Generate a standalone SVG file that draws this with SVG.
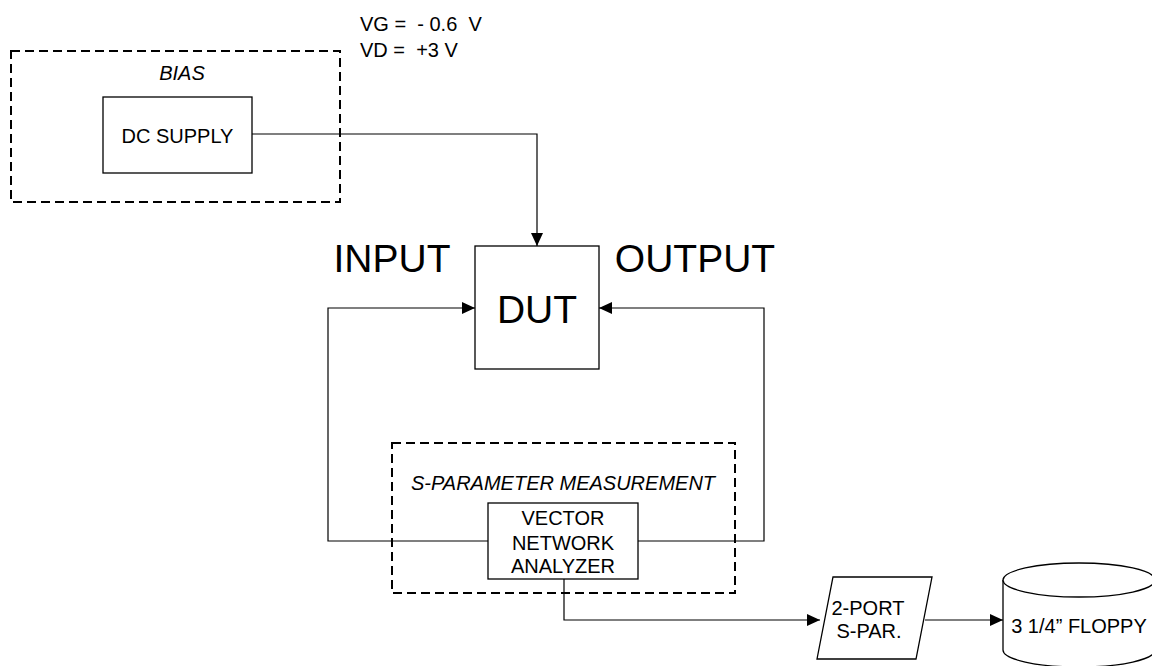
<svg xmlns="http://www.w3.org/2000/svg" width="1152" height="666" viewBox="0 0 1152 666">
<style>
text{font-family:"Liberation Sans",Arial,sans-serif;font-size:20px;fill:#000;white-space:pre}
.big{font-size:39px}
.it{font-style:italic}
.box{fill:#fff;stroke:#000;stroke-width:1.3}
.dash{fill:none;stroke:#000;stroke-width:2;stroke-dasharray:9 5}
.wire{fill:none;stroke:#000;stroke-width:1.2}
</style>
<defs>
<marker id="ah" markerWidth="13" markerHeight="12" refX="13" refY="6" orient="auto" markerUnits="userSpaceOnUse">
<path d="M0,0 L13,6 L0,12 Z" fill="#000"/>
</marker>
</defs>
<rect width="1152" height="666" fill="#fff"/>
<text x="360" y="31">VG =  - 0.6  V</text>
<text x="360" y="57">VD =  +3 V</text>
<g id="bias">
<rect class="dash" x="11" y="51" width="329" height="151"/>
<text class="it" x="182" y="80" text-anchor="middle">BIAS</text>
</g>
<g id="dcsupply">
<rect class="box" x="103" y="97" width="149" height="76"/>
<text x="177.5" y="143" text-anchor="middle">DC SUPPLY</text>
</g>
<g id="labels">
<text class="big" x="392" y="272" text-anchor="middle">INPUT</text>
<text class="big" x="695" y="272" text-anchor="middle">OUTPUT</text>
</g>
<g id="dut">
<rect class="box" x="475" y="246" width="124" height="123"/>
<text class="big" x="537" y="323" text-anchor="middle">DUT</text>
</g>
<g id="spm">
<rect class="dash" x="392" y="443" width="343" height="150"/>
<text class="it" x="563" y="490" text-anchor="middle">S-PARAMETER MEASUREMENT</text>
</g>
<g id="connectors">
<path class="wire" d="M252,134 H537 V246" marker-end="url(#ah)"/>
<path class="wire" d="M488,541 H328 V308 H475" marker-end="url(#ah)"/>
<path class="wire" d="M638,541 H764 V308 H599" marker-end="url(#ah)"/>
<path class="wire" d="M564,579 V620 H820" marker-end="url(#ah)"/>
<path class="wire" d="M925,620 H1003" marker-end="url(#ah)"/>
</g>
<g id="vna">
<rect class="box" x="488" y="503" width="150" height="76"/>
<text x="563" y="525" text-anchor="middle">VECTOR</text>
<text x="563" y="550" text-anchor="middle">NETWORK</text>
<text x="563" y="573" text-anchor="middle">ANALYZER</text>
</g>
<g id="sparfile">
<polygon class="box" points="833,577 932,577 916,659 817,659"/>
<text x="868" y="615" text-anchor="middle">2-PORT</text>
<text x="869" y="638" text-anchor="middle">S-PAR.</text>
</g>
<g id="floppy">
<path class="box" d="M1003,580 V650 A76,17 0 0 0 1155,650 V580 A76,17 0 0 0 1003,580 Z"/>
<path class="box" fill="none" d="M1003,580 A76,17 0 0 0 1155,580"/>
<text x="1079" y="633" text-anchor="middle">3 1/4” FLOPPY</text>
</g>
</svg>
